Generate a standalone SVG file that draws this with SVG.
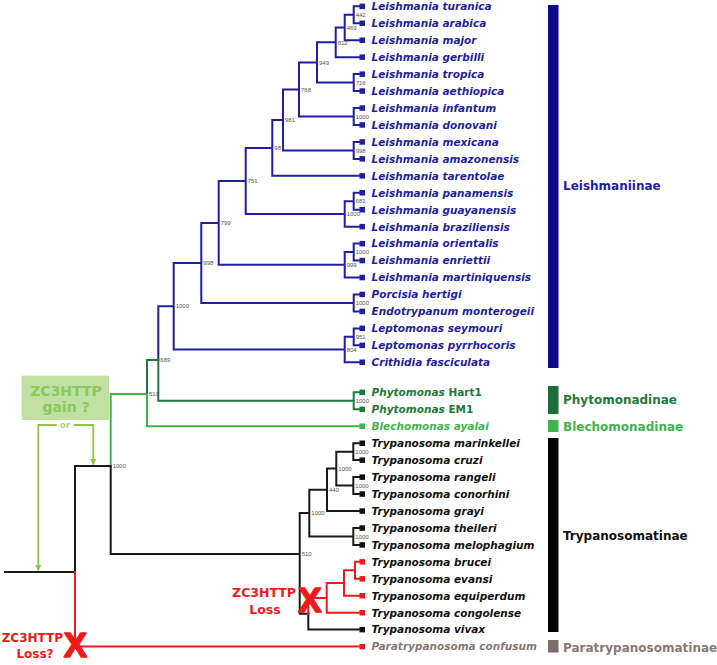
<svg xmlns="http://www.w3.org/2000/svg" width="717" height="665" viewBox="0 0 717 665">
<defs>
<style>
.e{fill:none;stroke-width:2;stroke-linecap:square}
.b{stroke:#1f1f9f}.dg{stroke:#1b7a3c}.lg{stroke:#3db54a}.k{stroke:#1a1a1a}.r{stroke:#f01a1a}
.lf{font-family:"DejaVu Sans",sans-serif;font-weight:bold;font-style:italic;font-size:10.5px}
.bs{font-family:"Liberation Sans",Arial,sans-serif;font-size:6px;fill:#555}
.cl{font-family:"DejaVu Sans",sans-serif;font-weight:bold;font-size:12px}
.tb{fill:#1f1f9f}.tdg{fill:#1b7a3c}.tlg{fill:#3db54a}.tk{fill:#111}.tr{fill:#f01a1a}.tp{fill:#857a72}
.ann{font-family:"DejaVu Sans",sans-serif;font-weight:bold;text-anchor:middle}
.x{font-family:"Liberation Sans",Arial,sans-serif;font-weight:bold;fill:#f01a1a;stroke:#f01a1a;stroke-width:1.6;stroke-linejoin:round;text-anchor:middle}
.arw{fill:none;stroke:#8dc63f;stroke-width:1.8}
</style>
<marker id="ah" viewBox="0 0 10 10" refX="9" refY="5" markerWidth="6" markerHeight="7" orient="auto" markerUnits="userSpaceOnUse">
<path d="M0,0 L10,5 L0,10 Z" fill="#8dc63f"/>
</marker>
</defs>
<rect width="717" height="665" fill="#fff"/>

<g id="connectors">
<path class="e b" d="M353.7,6.3V23.3M353.7,6.3H360M353.7,23.3H360
M344.7,14.8V40.2M344.7,14.8H353.7M344.7,40.2H360
M335.7,27.5V57.2M335.7,27.5H344.7M335.7,57.2H360
M353.7,74.1V91.1M353.7,74.1H360M353.7,91.1H360
M317,42.3V82.6M317,42.3H335.7M317,82.6H353.7
M353.7,108V125M353.7,108H360M353.7,125H360
M299,62.5V116.5M299,62.5H317M299,116.5H353.7
M353.7,141.9V158.9M353.7,141.9H360M353.7,158.9H360
M283,89.5V150.4M283,89.5H299M283,150.4H353.7
M272.3,120V175.8M272.3,120H283M272.3,175.8H360
M353.7,192.8V209.7M353.7,192.8H360M353.7,209.7H360
M344.7,201.2V226.7M344.7,201.2H353.7M344.7,226.7H360
M245.7,147.9V213.9M245.7,147.9H272.3M245.7,213.9H344.7
M353.7,243.6V260.6M353.7,243.6H360M353.7,260.6H360
M344.7,252.1V277.5M344.7,252.1H353.7M344.7,277.5H360
M218.7,180.9V264.8M218.7,180.9H245.7M218.7,264.8H344.7
M353.7,294.5V311.4M353.7,294.5H360M353.7,311.4H360
M201.3,222.9V302.9M201.3,222.9H218.7M201.3,302.9H353.7
M353.7,328.4V345.3M353.7,328.4H360M353.7,345.3H360
M344.7,336.8V362.3M344.7,336.8H353.7M344.7,362.3H360
M173.7,262.9V349.5M173.7,262.9H201.3M173.7,349.5H344.7
M158.3,306.2V360M158.3,306.2H173.7"/>
<path class="e dg" d="M158.3,360V400.8M158.3,400.8H353.7M353.7,392.3V409.3M353.7,392.3H360M353.7,409.3H360M147,394V360H158.3"/>
<path class="e lg" d="M147,394V426.2H360M110.7,466V394H147"/>
<path class="e k" d="M5,572H75V466H110.7V554H299.7
M299.7,513.1V613.7M299.7,513.1H309.3M299.7,613.7H308.3
M309.3,489.8V536.5M309.3,489.8H327M309.3,536.5H353.3
M327,468.6V511M327,468.6H336.3M327,511H360
M336.3,451.7V485.6M336.3,451.7H353.3M336.3,485.6H353.3
M353.3,443.2V460.1M353.3,443.2H360M353.3,460.1H360
M353.3,477.1V494M353.3,477.1H360M353.3,494H360
M353.3,528V544.9M353.3,528H360M353.3,544.9H360
M308.3,613.7V629.6H360"/>
<path class="e r" d="M75,572V646.6H360
M308.3,613.7V597.9H326.7M326.7,583V612.7M326.7,612.7H360M326.7,583H344
M344,570.3V595.7M344,595.7H360M344,570.3H355M355,561.8V578.8M355,561.8H360M355,578.8H360"/>
</g>

<g id="bootstrap">
<text class="bs" x="355.7" y="17">442</text>
<text class="bs" x="346.7" y="29.7">469</text>
<text class="bs" x="337.7" y="44.5">812</text>
<text class="bs" x="355.7" y="84.8">716</text>
<text class="bs" x="319" y="64.7">949</text>
<text class="bs" x="355.7" y="118.7">1000</text>
<text class="bs" x="301" y="91.7">768</text>
<text class="bs" x="355.7" y="152.6">998</text>
<text class="bs" x="285" y="122.2">981</text>
<text class="bs" x="274.3" y="150.1">987</text>
<text class="bs" x="355.7" y="203.4">681</text>
<text class="bs" x="346.7" y="216.1">1000</text>
<text class="bs" x="247.7" y="183.1">751</text>
<text class="bs" x="355.7" y="254.3">1000</text>
<text class="bs" x="346.7" y="267">999</text>
<text class="bs" x="220.7" y="225.1">799</text>
<text class="bs" x="355.7" y="305.1">1000</text>
<text class="bs" x="203.3" y="265.1">998</text>
<text class="bs" x="355.7" y="339">951</text>
<text class="bs" x="346.7" y="351.7">804</text>
<text class="bs" x="175.7" y="308.4">1000</text>
<text class="bs" x="160.3" y="362.2">689</text>
<text class="bs" x="355.7" y="403">1000</text>
<text class="bs" x="149" y="396.2">510</text>
<text class="bs" x="112.7" y="468.2">1000</text>
<text class="bs" x="355.3" y="453.9">1000</text>
<text class="bs" x="355.3" y="487.8">1000</text>
<text class="bs" x="338.3" y="470.8">1000</text>
<text class="bs" x="329" y="492">440</text>
<text class="bs" x="355.3" y="538.7">1000</text>
<text class="bs" x="311.3" y="515.3">1000</text>
<text class="bs" x="301.7" y="556.2">510</text>
</g>

<g id="leaf-turanica"><rect class="tb" x="359.5" y="3.6" width="5.5" height="5.5"/><text class="lf tb" x="371.5" y="10.1">Leishmania turanica</text></g>
<g id="leaf-arabica"><rect class="tb" x="359.5" y="20.5" width="5.5" height="5.5"/><text class="lf tb" x="371.5" y="27.1">Leishmania arabica</text></g>
<g id="leaf-major"><rect class="tb" x="359.5" y="37.5" width="5.5" height="5.5"/><text class="lf tb" x="371.5" y="44">Leishmania major</text></g>
<g id="leaf-gerbilli"><rect class="tb" x="359.5" y="54.4" width="5.5" height="5.5"/><text class="lf tb" x="371.5" y="61">Leishmania gerbilli</text></g>
<g id="leaf-tropica"><rect class="tb" x="359.5" y="71.4" width="5.5" height="5.5"/><text class="lf tb" x="371.5" y="77.9">Leishmania tropica</text></g>
<g id="leaf-aethiopica"><rect class="tb" x="359.5" y="88.3" width="5.5" height="5.5"/><text class="lf tb" x="371.5" y="94.9">Leishmania aethiopica</text></g>
<g id="leaf-infantum"><rect class="tb" x="359.5" y="105.3" width="5.5" height="5.5"/><text class="lf tb" x="371.5" y="111.8">Leishmania infantum</text></g>
<g id="leaf-donovani"><rect class="tb" x="359.5" y="122.2" width="5.5" height="5.5"/><text class="lf tb" x="371.5" y="128.8">Leishmania donovani</text></g>
<g id="leaf-mexicana"><rect class="tb" x="359.5" y="139.2" width="5.5" height="5.5"/><text class="lf tb" x="371.5" y="145.7">Leishmania mexicana</text></g>
<g id="leaf-amazonensis"><rect class="tb" x="359.5" y="156.1" width="5.5" height="5.5"/><text class="lf tb" x="371.5" y="162.7">Leishmania amazonensis</text></g>
<g id="leaf-tarentolae"><rect class="tb" x="359.5" y="173.1" width="5.5" height="5.5"/><text class="lf tb" x="371.5" y="179.6">Leishmania tarentolae</text></g>
<g id="leaf-panamensis"><rect class="tb" x="359.5" y="190" width="5.5" height="5.5"/><text class="lf tb" x="371.5" y="196.6">Leishmania panamensis</text></g>
<g id="leaf-guayanensis"><rect class="tb" x="359.5" y="207" width="5.5" height="5.5"/><text class="lf tb" x="371.5" y="213.5">Leishmania guayanensis</text></g>
<g id="leaf-braziliensis"><rect class="tb" x="359.5" y="223.9" width="5.5" height="5.5"/><text class="lf tb" x="371.5" y="230.5">Leishmania braziliensis</text></g>
<g id="leaf-orientalis"><rect class="tb" x="359.5" y="240.9" width="5.5" height="5.5"/><text class="lf tb" x="371.5" y="247.4">Leishmania orientalis</text></g>
<g id="leaf-enriettii"><rect class="tb" x="359.5" y="257.8" width="5.5" height="5.5"/><text class="lf tb" x="371.5" y="264.4">Leishmania enriettii</text></g>
<g id="leaf-martiniquensis"><rect class="tb" x="359.5" y="274.8" width="5.5" height="5.5"/><text class="lf tb" x="371.5" y="281.3">Leishmania martiniquensis</text></g>
<g id="leaf-porcisia"><rect class="tb" x="359.5" y="291.7" width="5.5" height="5.5"/><text class="lf tb" x="371.5" y="298.3">Porcisia hertigi</text></g>
<g id="leaf-endotrypanum"><rect class="tb" x="359.5" y="308.7" width="5.5" height="5.5"/><text class="lf tb" x="371.5" y="315.2">Endotrypanum monterogeii</text></g>
<g id="leaf-seymouri"><rect class="tb" x="359.5" y="325.6" width="5.5" height="5.5"/><text class="lf tb" x="371.5" y="332.2">Leptomonas seymouri</text></g>
<g id="leaf-pyrrhocoris"><rect class="tb" x="359.5" y="342.6" width="5.5" height="5.5"/><text class="lf tb" x="371.5" y="349.1">Leptomonas pyrrhocoris</text></g>
<g id="leaf-crithidia"><rect class="tb" x="359.5" y="359.5" width="5.5" height="5.5"/><text class="lf tb" x="371.5" y="366.1">Crithidia fasciculata</text></g>
<g id="leaf-hart1"><rect class="tdg" x="359.5" y="389.6" width="5.5" height="5.5"/><text class="lf tdg" x="371.5" y="396.1">Phytomonas <tspan font-style="normal">Hart1</tspan></text></g>
<g id="leaf-em1"><rect class="tdg" x="359.5" y="406.6" width="5.5" height="5.5"/><text class="lf tdg" x="371.5" y="413.1">Phytomonas <tspan font-style="normal">EM1</tspan></text></g>
<g id="leaf-blechomonas"><rect class="tlg" x="359.5" y="423.5" width="5.5" height="5.5"/><text class="lf tlg" x="371.5" y="430">Blechomonas ayalai</text></g>
<g id="leaf-marinkellei"><rect class="tk" x="359.5" y="440.5" width="5.5" height="5.5"/><text class="lf tk" x="371.5" y="447">Trypanosoma marinkellei</text></g>
<g id="leaf-cruzi"><rect class="tk" x="359.5" y="457.4" width="5.5" height="5.5"/><text class="lf tk" x="371.5" y="463.9">Trypanosoma cruzi</text></g>
<g id="leaf-rangeli"><rect class="tk" x="359.5" y="474.4" width="5.5" height="5.5"/><text class="lf tk" x="371.5" y="480.9">Trypanosoma rangeli</text></g>
<g id="leaf-conorhini"><rect class="tk" x="359.5" y="491.3" width="5.5" height="5.5"/><text class="lf tk" x="371.5" y="497.8">Trypanosoma conorhini</text></g>
<g id="leaf-grayi"><rect class="tk" x="359.5" y="508.3" width="5.5" height="5.5"/><text class="lf tk" x="371.5" y="514.8">Trypanosoma grayi</text></g>
<g id="leaf-theileri"><rect class="tk" x="359.5" y="525.3" width="5.5" height="5.5"/><text class="lf tk" x="371.5" y="531.8">Trypanosoma theileri</text></g>
<g id="leaf-melophagium"><rect class="tk" x="359.5" y="542.2" width="5.5" height="5.5"/><text class="lf tk" x="371.5" y="548.7">Trypanosoma melophagium</text></g>
<g id="leaf-brucei"><rect class="tr" x="359.5" y="559.1" width="5.5" height="5.5"/><text class="lf tk" x="371.5" y="565.6">Trypanosoma brucei</text></g>
<g id="leaf-evansi"><rect class="tr" x="359.5" y="576.1" width="5.5" height="5.5"/><text class="lf tk" x="371.5" y="582.6">Trypanosoma evansi</text></g>
<g id="leaf-equiperdum"><rect class="tr" x="359.5" y="593" width="5.5" height="5.5"/><text class="lf tk" x="371.5" y="599.5">Trypanosoma equiperdum</text></g>
<g id="leaf-congolense"><rect class="tr" x="359.5" y="610" width="5.5" height="5.5"/><text class="lf tk" x="371.5" y="616.5">Trypanosoma congolense</text></g>
<g id="leaf-vivax"><rect class="tk" x="359.5" y="626.9" width="5.5" height="5.5"/><text class="lf tk" x="371.5" y="633.4">Trypanosoma vivax</text></g>
<g id="leaf-paratrypanosoma"><rect class="tr" x="359.5" y="643.9" width="5.5" height="5.5"/><text class="lf tp" x="371.5" y="650.4">Paratrypanosoma confusum</text></g>

<g id="clade-leishmaniinae"><rect x="548" y="5" width="10.5" height="363" fill="#0a0a8a"/><text class="cl tb" x="563" y="190">Leishmaniinae</text></g>
<g id="clade-phytomonadinae"><rect x="548" y="386" width="10.5" height="28" fill="#1b6e3a"/><text class="cl tdg" x="563" y="404">Phytomonadinae</text></g>
<g id="clade-blechomonadinae"><rect x="548" y="420" width="10.5" height="12" fill="#3db54a"/><text class="cl tlg" x="563" y="431">Blechomonadinae</text></g>
<g id="clade-trypanosomatinae"><rect x="548" y="438" width="10.5" height="194" fill="#000"/><text class="cl tk" x="563" y="540">Trypanosomatinae</text></g>
<g id="clade-paratrypanosomatinae"><rect x="548" y="640" width="10.5" height="12.5" fill="#7b6e66"/><text class="cl tp" x="563" y="651.5">Paratrypanosomatinae</text></g>

<g id="gain">
<rect x="21.7" y="375.7" width="87.3" height="44.3" fill="#bfe0a1"/>
<text class="ann" x="66" y="396" font-size="14" fill="#8cc85a">ZC3HTTP</text>
<text class="ann" x="66" y="411.7" font-size="14" fill="#8cc85a">gain ?</text>
<text class="ann" x="65" y="428" font-size="9" font-weight="normal" fill="#a8d67e">or</text>
<path class="arw" d="M56.7,425H38.3V570.5" marker-end="url(#ah)"/>
<path class="arw" d="M74,425H93.3V464.5" marker-end="url(#ah)"/>
</g>

<g id="loss-trypanosoma">
<text class="ann" x="296" y="597" font-size="12.5" fill="#f01a1a" style="text-anchor:end">ZC3HTTP</text>
<text class="ann" x="265" y="614" font-size="12.5" fill="#f01a1a">Loss</text>
<text class="x" x="310" y="612" font-size="35">X</text>
</g>
<g id="loss-root">
<text class="ann" x="32.3" y="641.7" font-size="12" fill="#f01a1a">ZC3HTTP</text>
<text class="ann" x="35" y="658" font-size="12" fill="#f01a1a">Loss?</text>
<text class="x" x="75.5" y="657" font-size="35">X</text>
</g>
</svg>
